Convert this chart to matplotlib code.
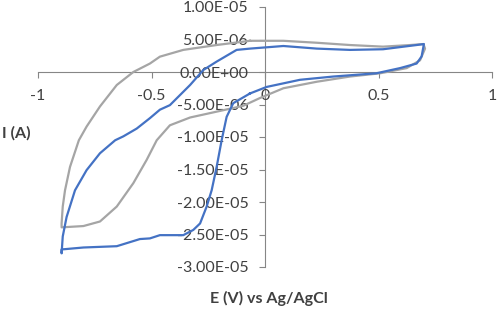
import matplotlib
matplotlib.use("Agg")
import matplotlib.pyplot as plt
from matplotlib.ticker import FuncFormatter, MultipleLocator

# blue scan (E in V, I in A)
blue_e = [-0.066, -0.14, -0.169, -0.191, -0.213, -0.235, -0.257, -0.286, -0.316, -0.36,
          -0.433, -0.463, -0.507, -0.551, -0.653, -0.80, -0.896, -0.896, -0.891, -0.874,
          -0.837, -0.786, -0.727, -0.66, -0.624, -0.565, -0.507, -0.463, -0.419, -0.33,
          -0.272, -0.213, -0.125, -0.066, 0.081, 0.228, 0.374, 0.52, 0.668, 0.70, 0.69,
          0.668, 0.595, 0.49, 0.30, 0.154, 0.007, -0.066]
blue_i = [-3.3e-6, -4.8e-6, -6.9e-6, -10.5e-6, -14.6e-6, -18.2e-6, -20.7e-6, -23.3e-6,
          -24.3e-6, -25.1e-6, -25.1e-6, -25.1e-6, -25.6e-6, -25.7e-6, -26.8e-6, -27.0e-6,
          -27.3e-6, -27.9e-6, -25.3e-6, -22.3e-6, -18.2e-6, -15.1e-6, -12.5e-6, -10.5e-6,
          -9.9e-6, -8.7e-6, -7.1e-6, -5.8e-6, -5.1e-6, -2.0e-6, 0.3e-6, 1.6e-6, 3.4e-6,
          3.6e-6, 4.0e-6, 3.6e-6, 3.4e-6, 3.5e-6, 4.15e-6, 4.3e-6, 2.4e-6, 1.3e-6, 0.6e-6,
          -0.2e-6, -0.7e-6, -1.2e-6, -2.3e-6, -3.3e-6]

# grey scan
grey_e = [-0.066, 0.081, 0.228, 0.374, 0.52, 0.64, 0.698, 0.705, 0.683, 0.624, 0.507,
          0.374, 0.228, 0.081, -0.022, -0.096, -0.213, -0.33, -0.419, -0.477, -0.521, -0.58,
          -0.653, -0.727, -0.80, -0.896, -0.896, -0.891, -0.881, -0.859, -0.82, -0.786,
          -0.727, -0.653, -0.58, -0.507, -0.463, -0.36, -0.213, -0.066]
grey_i = [4.8e-6, 4.8e-6, 4.5e-6, 4.15e-6, 3.9e-6, 4.15e-6, 4.3e-6, 3.6e-6, 1.8e-6, 0.6e-6,
          -0.2e-6, -0.7e-6, -1.5e-6, -2.5e-6, -4.0e-6, -5.2e-6, -6.1e-6, -7.0e-6, -8.2e-6,
          -10.5e-6, -13.5e-6, -17.1e-6, -20.7e-6, -23.0e-6, -23.7e-6, -23.9e-6, -23.3e-6,
          -20.7e-6, -18.2e-6, -14.6e-6, -10.5e-6, -8.4e-6, -5.3e-6, -2.0e-6, 0.0, 1.3e-6,
          2.36e-6, 3.4e-6, 4.15e-6, 4.8e-6]

font = "Lato"

fig = plt.figure(figsize=(4.98, 3.09), dpi=100)
ax = fig.add_axes([38 / 498, 1 - 267 / 309, 454 / 498, 260 / 309])

ax.plot(grey_e, grey_i, color="#a5a5a5", lw=1.6, zorder=2)
ax.plot(blue_e, blue_i, color="#4472c4", lw=1.6, zorder=3)

ax.set_xlim(-1, 1)
ax.set_ylim(-3e-5, 1e-5)
ax.xaxis.set_major_locator(MultipleLocator(0.5))
ax.yaxis.set_major_locator(MultipleLocator(5e-6))
ax.xaxis.set_major_formatter(FuncFormatter(lambda v, p: "%g" % v))
ax.yaxis.set_major_formatter(FuncFormatter(lambda v, p: "%.2E" % v))

for s in ["top", "right"]:
    ax.spines[s].set_visible(False)
ax.spines["left"].set_position(("data", 0))
ax.spines["bottom"].set_position(("data", 0))
for s in ["left", "bottom"]:
    ax.spines[s].set_color("#868686")
    ax.spines[s].set_linewidth(0.8)
    ax.spines[s].set_zorder(1)

ax.tick_params(axis="both", colors="#868686", labelcolor="#404040", length=4,
               width=0.8, labelsize=11.5)
ax.tick_params(axis="y", pad=8)
ax.tick_params(axis="x", pad=8)
for t in ax.get_xticklabels() + ax.get_yticklabels():
    t.set_family(font)

fig.text(2 / 498, 1 - 133 / 309, "I (A)", fontsize=11.5, fontweight="bold",
         family=font, color="#404040", va="center", ha="left")
fig.text(269 / 498, 1 - 298 / 309, "E (V) vs Ag/AgCl", fontsize=11.5, fontweight="bold",
         family=font, color="#404040", va="center", ha="center")

fig.savefig("out.png", dpi=100)
